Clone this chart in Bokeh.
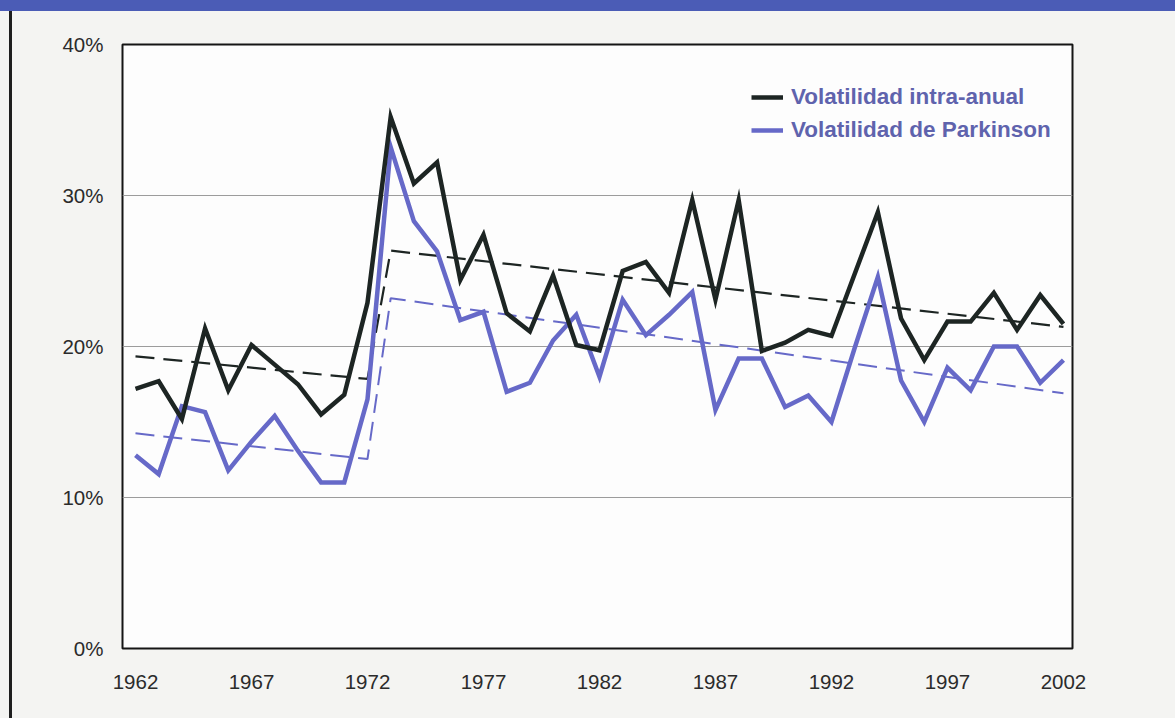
from bokeh.plotting import figure
from bokeh.models import FixedTicker, Legend, LegendItem, PrintfTickFormatter, ColumnDataSource
from bokeh.embed import file_html
from bokeh.resources import INLINE

# ---- data ----
years = list(range(1962, 2003))
intra_anual = [17.2, 17.7, 15.2, 21.2, 17.1, 20.1, 18.8, 17.5, 15.5, 16.8,
               22.9, 35.2, 30.8, 32.2, 24.4, 27.4, 22.2, 21.0, 24.7, 20.1,
               19.75, 25.0, 25.6, 23.55, 29.7, 23.1, 29.7, 19.7, 20.25, 21.1,
               20.7, 24.8, 28.9, 21.85, 19.1, 21.65, 21.65, 23.55, 21.1, 23.4,
               21.5]
parkinson = [12.8, 11.55, 16.05, 15.65, 11.8, 13.7, 15.4, 13.1, 11.0, 11.0,
             16.5, 33.2, 28.3, 26.3, 21.75, 22.3, 17.0, 17.6, 20.4, 22.1,
             18.0, 23.1, 20.75, 22.1, 23.6, 15.8, 19.2, 19.2, 16.0, 16.75,
             15.0, 19.9, 24.6, 17.75, 15.0, 18.6, 17.1, 20.0, 20.0, 17.6,
             19.1]
trend_years = [1962, 1972, 1973, 2002]
trend_intra = [19.35, 17.85, 26.35, 21.3]
trend_parkinson = [14.25, 12.55, 23.2, 16.9]
tick_years = [1962, 1967, 1972, 1977, 1982, 1987, 1992, 1997, 2002]
y_ticks = [0, 10, 20, 30, 40]
labels = ["Volatilidad intra-anual", "Volatilidad de Parkinson"]

BLACK = "#1d2523"
BLUE = "#6669c8"

src = ColumnDataSource(dict(year=years, intra=intra_anual, park=parkinson))
tsrc = ColumnDataSource(dict(year=trend_years, intra=trend_intra, park=trend_parkinson))

W, H = 1174, 717
p = figure(width=W, height=H, x_range=(1961.44, 2002.39), y_range=(0, 40),
           output_backend="svg", toolbar_location=None,
           min_border_left=122, min_border_right=W - 1072,
           min_border_top=44, min_border_bottom=H - 648)

p.background_fill_color = "#fdfdfd"
p.border_fill_color = None
p.outline_line_color = "#151515"
p.outline_line_width = 2

# trend lines
p.line("year", "intra", source=tsrc, line_color=BLACK, line_width=2.2, line_dash="19 9")
p.line("year", "park", source=tsrc, line_color=BLUE, line_width=2, line_dash="19 9")
# series
r_park = p.line("year", "park", source=src, line_color=BLUE, line_width=4.5, line_join="miter")
r_intra = p.line("year", "intra", source=src, line_color=BLACK, line_width=4.5, line_join="miter")

# axes
for ax in (p.xaxis[0], p.yaxis[0]):
    ax.axis_line_color = None
    ax.major_tick_line_color = None
    ax.minor_tick_line_color = None
    ax.major_label_text_font = "Liberation Sans"
    ax.major_label_text_font_size = "20.5px"
    ax.major_label_text_color = "#2b2b2b"
p.xaxis.ticker = FixedTicker(ticks=tick_years)
p.xaxis.major_label_standoff = 20
p.yaxis.ticker = FixedTicker(ticks=y_ticks)
p.yaxis.formatter = PrintfTickFormatter(format="%d%%")
p.yaxis.major_label_standoff = 13

p.xgrid.visible = False
p.ygrid.ticker = FixedTicker(ticks=[10, 20, 30])
p.ygrid.grid_line_color = "#9c9c9c"
p.ygrid.grid_line_width = 1

legend = Legend(items=[LegendItem(label=labels[0], renderers=[r_intra]),
                       LegendItem(label=labels[1], renderers=[r_park])],
                location=(629, 505))
legend.border_line_color = None
legend.background_fill_alpha = 0
legend.label_text_font = "Liberation Sans"
legend.label_text_font_style = "bold"
legend.label_text_font_size = "22.5px"
legend.label_text_color = "#5f63ad"
legend.glyph_width = 32
legend.glyph_height = 26
legend.label_height = 26
legend.spacing = 7
legend.padding = 0
legend.margin = 0
legend.label_standoff = 8
p.add_layout(legend)

html = file_html(p, INLINE, title="Volatilidad")
style = ("<style>body{background:"
         "linear-gradient(#4b5cb6,#4b5cb6) 0 0/100% 11px no-repeat,"
         "linear-gradient(#1e1e1e,#1e1e1e) 9px 11px/3px 100% no-repeat,"
         "#f4f4f2;}</style>")
html = html.replace("</head>", style + "</head>", 1)
open("out.html", "w").write(html)
